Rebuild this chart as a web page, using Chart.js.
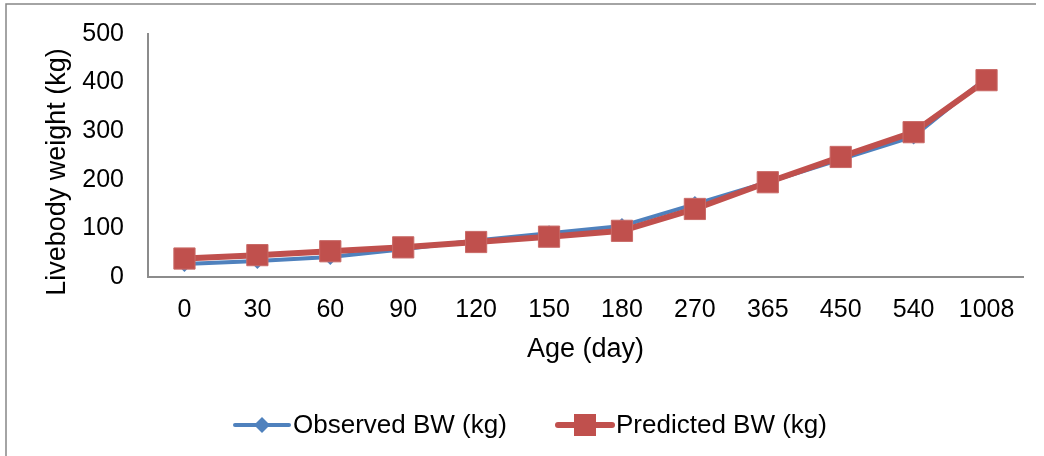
<!DOCTYPE html>
<html lang="en">
<head>
    <meta charset="UTF-8">
    <title>Livebody weight by age</title>
    <script src="https://cdn.jsdelivr.net/npm/chart.js"></script>
    <style>
        html, body { margin: 0; padding: 0; background: #fff; }
        canvas { display: block; }
    </style>
</head>
<body>
    <canvas id="chart" width="1044" height="456"></canvas>

    <script>
        // values
        const ages = ['0', '30', '60', '90', '120', '150', '180', '270', '365', '450', '540', '1008'];
        const observedBW = [27, 33, 41, 57, 75, 90, 105, 150, 195, 242, 289, 410];
        const predictedBW = [38, 45, 53, 61, 72, 83, 95, 140, 195, 247, 298, 405];
        const yTicks = [0, 100, 200, 300, 400, 500];

        const BLUE = '#4F81BD';
        const RED = '#C0504D';
        const FONT = "'Liberation Sans', Arial, sans-serif";

        Chart.defaults.font.family = FONT;
        Chart.defaults.color = '#000';

        // frame lines, y axis title and the line+marker legend
        const extras = {
            id: 'extras',
            beforeDraw(chart) {
                const ctx = chart.ctx;
                ctx.save();
                ctx.strokeStyle = '#868686';
                ctx.lineWidth = 1.5;
                ctx.beginPath();
                ctx.moveTo(6, 456);
                ctx.lineTo(6, 4);
                ctx.lineTo(1036, 4);
                ctx.stroke();
                ctx.restore();
            },
            afterDraw(chart) {
                const ctx = chart.ctx;
                ctx.save();
                // y axis title
                ctx.font = '27px ' + FONT;
                ctx.fillStyle = '#000';
                ctx.textAlign = 'center';
                ctx.textBaseline = 'alphabetic';
                ctx.translate(65, 172);
                ctx.rotate(-Math.PI / 2);
                ctx.fillText('Livebody weight (kg)', 0, 0);
                ctx.restore();

                // legend
                const y = 425;
                const items = [
                    { x: 235, label: 'Observed BW (kg)', color: BLUE, width: 4, marker: 'diamond' },
                    { x: 558, label: 'Predicted BW (kg)', color: RED, width: 6, marker: 'square' }
                ];
                ctx.save();
                ctx.font = '26px ' + FONT;
                ctx.textBaseline = 'middle';
                ctx.textAlign = 'left';
                items.forEach(it => {
                    ctx.strokeStyle = it.color;
                    ctx.fillStyle = it.color;
                    ctx.lineWidth = it.width;
                    ctx.lineCap = 'round';
                    ctx.beginPath();
                    ctx.moveTo(it.x, y);
                    ctx.lineTo(it.x + 54, y);
                    ctx.stroke();
                    const cx = it.x + 27;
                    ctx.beginPath();
                    if (it.marker === 'diamond') {
                        ctx.moveTo(cx, y - 8);
                        ctx.lineTo(cx + 8, y);
                        ctx.lineTo(cx, y + 8);
                        ctx.lineTo(cx - 8, y);
                        ctx.closePath();
                    } else {
                        ctx.rect(cx - 11, y - 11, 22, 22);
                    }
                    ctx.fill();
                    ctx.fillStyle = '#000';
                    ctx.fillText(it.label, it.x + 58, y + 1);
                });
                ctx.restore();
            }
        };

        new Chart(document.getElementById('chart'), {
            type: 'line',
            data: {
                labels: ages,
                datasets: [
                    {
                        label: 'Observed BW (kg)',
                        data: observedBW,
                        borderColor: BLUE,
                        backgroundColor: BLUE,
                        borderWidth: 4,
                        pointStyle: 'rectRot',
                        pointRadius: 8,
                        pointHoverRadius: 8,
                        pointBorderWidth: 0,
                        tension: 0,
                        order: 2
                    },
                    {
                        label: 'Predicted BW (kg)',
                        data: predictedBW,
                        borderColor: RED,
                        backgroundColor: RED,
                        borderWidth: 6,
                        pointStyle: 'rect',
                        pointRadius: 15,
                        pointHoverRadius: 15,
                        pointBorderColor: '#C96A67',
                        pointBorderWidth: 1,
                        tension: 0,
                        order: 1
                    }
                ]
            },
            options: {
                responsive: false,
                animation: false,
                devicePixelRatio: 1,
                layout: { padding: { left: 0, top: 34, right: 21, bottom: 85 } },
                plugins: {
                    legend: { display: false },
                    tooltip: { enabled: false }
                },
                scales: {
                    x: {
                        offset: true,
                        grid: { display: false, drawTicks: false },
                        border: { color: '#8C8C8C', width: 2 },
                        ticks: { font: { size: 25 }, padding: 18, maxRotation: 0, autoSkip: false },
                        title: {
                            display: true,
                            text: 'Age (day)',
                            font: { size: 27 },
                            padding: { top: 0, bottom: 5 }
                        },
                        afterFit: (s) => { s.height = 94; }
                    },
                    y: {
                        min: 0,
                        max: 500,
                        grid: { display: false, drawTicks: false },
                        border: { color: '#8C8C8C', width: 2 },
                        afterBuildTicks: (s) => { s.ticks = yTicks.map(v => ({ value: v })); },
                        ticks: { font: { size: 25 }, padding: 24 },
                        afterFit: (s) => {
                            s.width = 148;
                            s.paddingTop = 10;
                            s.paddingBottom = 10;
                        }
                    }
                }
            },
            plugins: [extras]
        });
    </script>
</body>
</html>
